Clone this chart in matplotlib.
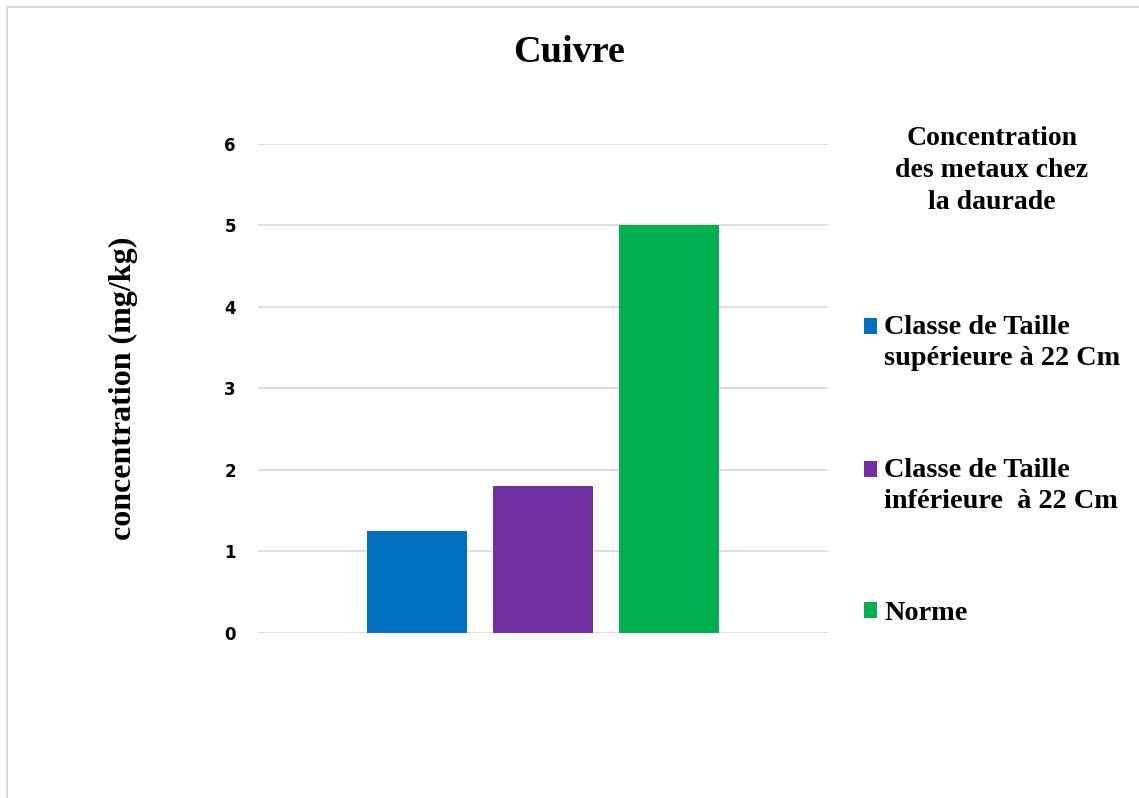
import matplotlib
matplotlib.use("Agg")
import matplotlib.pyplot as plt
from matplotlib.patches import Rectangle
from matplotlib.legend_handler import HandlerPatch, update_from_first_child

# Series (one group, three bars)
series_labels = [
    "Classe de Taille\nsupérieure à 22 Cm",
    "Classe de Taille\ninférieure  à 22 Cm",
    "Norme",
]
series_values = [1.25, 1.8, 5.0]
series_colors = ["#0070C0", "#7030A0", "#00B050"]
y_ticks = [0, 1, 2, 3, 4, 5, 6]

serif = ["Liberation Serif", "DejaVu Serif"]
LINESPACING = 1.34


class TopSquareHandler(HandlerPatch):
    """Square handle aligned with the first line of a multi-line label."""

    def _create_patch(self, legend, orig_handle, xdescent, ydescent,
                      width, height, fontsize):
        shift = 0.0
        n_lines = orig_handle.get_label().count("\n") + 1
        if n_lines > 1:
            shift = 0.5 * (n_lines - 1) * LINESPACING * 0.87 * fontsize
        return Rectangle((-xdescent, -ydescent + shift), width, height)


fig = plt.figure(figsize=(11.39, 7.98), dpi=100)
ax = fig.add_axes([0.2265, 0.2068, 0.5004, 0.6128])

bar_w = 0.1754
offsets = [-0.221, 0.0, 0.221]
bars = []
for off, val, col, lab in zip(offsets, series_values, series_colors, series_labels):
    bars.append(ax.bar(off, val, width=bar_w, color=col, label=lab, zorder=3))

ax.set_xlim(-0.5, 0.5)
ax.set_ylim(0, 6)
ax.set_yticks(y_ticks)
ax.set_xticks([])
ax.grid(axis="y", color="#d9d9d9", linewidth=1.2, zorder=0)
for s in ax.spines.values():
    s.set_visible(False)
ax.tick_params(axis="y", length=0, pad=16)
for t in ax.get_yticklabels():
    t.set_fontfamily("DejaVu Sans")
    t.set_fontweight("bold")
    t.set_fontsize(12)

ax.set_ylabel("concentration (mg/kg)", fontfamily=serif, fontweight="bold", fontsize=23)
ax.yaxis.set_label_coords(-0.2105, 0.5)

fig.suptitle("Cuivre", x=0.5, y=1 - 53 / 798, va="center",
             fontfamily=serif, fontweight="bold", fontsize=27.5)

handler = TopSquareHandler(update_func=update_from_first_child)
leg = fig.legend(
    loc="upper center", bbox_to_anchor=(992 / 1139, 1 - 112 / 798),
    title="Concentration\ndes metaux chez\nla daurade",
    frameon=False, borderpad=0, labelspacing=3.07,
    handlelength=0.47, handleheight=0.47, handletextpad=0.25,
    prop={"family": serif, "weight": "bold", "size": 20.3},
    title_fontproperties={"family": serif, "weight": "bold", "size": 20},
    handler_map={b: handler for b in bars},
)
leg.get_title().set_multialignment("center")
leg.get_title().set_linespacing(1.36)
for txt in leg.get_texts():
    txt.set_linespacing(LINESPACING)
# wider gap between the legend title and the first entry
leg._legend_box.sep = 72

# light frame around the chart area
fig.patches.append(Rectangle((7 / 1139, -0.1), 1.2, 1 - 7 / 798 + 0.1,
                             transform=fig.transFigure, fill=False,
                             edgecolor="#d9d9d9", linewidth=1.5))

fig.savefig("out.png", dpi=100)
